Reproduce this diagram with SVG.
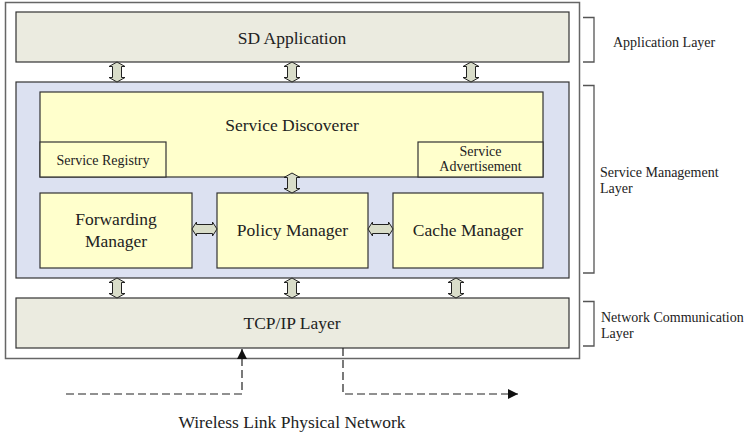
<svg xmlns="http://www.w3.org/2000/svg" width="749" height="435" viewBox="0 0 749 435">
<defs>
<style>
text{font-family:"Liberation Serif","Times New Roman",serif;fill:#222;}
.big{font-size:17.5px;text-anchor:middle;}
.sm{font-size:14px;text-anchor:middle;}
.lbl{font-size:14px;}
.layer{fill:#EBEBE0;stroke:#333;stroke-width:1.2;}
.yel{fill:#FFFFCC;stroke:#333;stroke-width:1.2;}
.dbl{fill:#D9DDC9;stroke:#222;stroke-width:1;}
.brk{fill:none;stroke:#555;stroke-width:1.3;}
.dash{fill:none;stroke:#222;stroke-width:1.2;stroke-dasharray:8,4;}
</style>
<path id="va" d="M0,0 L8,4.5 L4.5,4.5 L4.5,15.5 L8,15.5 L0,20 L-8,15.5 L-4.5,15.5 L-4.5,4.5 L-8,4.5 Z"/>
<path id="ha" d="M0,0 L4.5,-7 L4.5,-4.5 L20.5,-4.5 L20.5,-7 L25,0 L20.5,7 L20.5,4.5 L4.5,4.5 L4.5,7 Z"/>
<marker id="ah" viewBox="0 0 10 10" refX="10" refY="5" markerWidth="10" markerHeight="10" markerUnits="userSpaceOnUse" orient="auto">
<path d="M0,0 L10,5 L0,10 Z" fill="#111"/>
</marker>
</defs>
<rect width="749" height="435" fill="#fff"/>
<rect x="5.5" y="2.5" width="574" height="356" fill="#fff" stroke="#666" stroke-width="1.5"/>

<g id="sd-application">
<rect class="layer" x="16" y="12" width="553" height="50"/>
<text class="big" x="292" y="44">SD Application</text>
</g>

<g id="service-management">
<rect x="16" y="82" width="553" height="196" fill="#DCE1F1" stroke="#333" stroke-width="1.2"/>
</g>

<g id="service-discoverer">
<rect class="yel" x="40" y="92" width="503" height="85"/>
<text class="big" x="292" y="131">Service Discoverer</text>
</g>
<g id="service-registry">
<rect class="yel" x="40" y="142" width="126" height="35"/>
<text class="sm" x="103" y="165">Service Registry</text>
</g>
<g id="service-advertisement">
<rect class="yel" x="418" y="142" width="125" height="35"/>
<text class="sm" x="480.5" y="156">Service</text>
<text class="sm" x="480.5" y="171">Advertisement</text>
</g>
<g id="forwarding-manager">
<rect class="yel" x="40" y="193" width="152" height="75"/>
<text class="big" x="116" y="225">Forwarding</text>
<text class="big" x="116" y="247">Manager</text>
</g>
<g id="policy-manager">
<rect class="yel" x="217" y="193" width="151" height="75"/>
<text class="big" x="292.5" y="236">Policy Manager</text>
</g>
<g id="cache-manager">
<rect class="yel" x="393" y="193" width="150" height="75"/>
<text class="big" x="468" y="236">Cache Manager</text>
</g>

<g id="tcp-ip-layer">
<rect class="layer" x="16" y="298" width="553" height="50"/>
<text class="big" x="292" y="329">TCP/IP Layer</text>
</g>

<g id="application-layer-label">
<path class="brk" d="M583,17.5 H594 V62 H583"/>
<text class="lbl" x="613" y="47">Application Layer</text>
</g>
<g id="service-management-layer-label">
<path class="brk" d="M583,85.5 H594 V273 H583"/>
<text class="lbl" x="600" y="177">Service Management</text>
<text class="lbl" x="600" y="193">Layer</text>
</g>
<g id="network-communication-layer-label">
<path class="brk" d="M583,301.5 H594 V346 H583"/>
<text class="lbl" x="601" y="322">Network Communication</text>
<text class="lbl" x="601" y="338">Layer</text>
</g>

<g id="wireless-network">
<text class="big" x="292" y="428">Wireless Link Physical Network</text>
</g>

<g id="connectors">
<use href="#va" class="dbl" x="117" y="62"/>
<use href="#va" class="dbl" x="292" y="62"/>
<use href="#va" class="dbl" x="471" y="62"/>
<use href="#va" class="dbl" x="292" y="173" transform="translate(0,0)"/>
<use href="#ha" class="dbl" x="192" y="229"/>
<use href="#ha" class="dbl" x="368" y="229"/>
<use href="#va" class="dbl" x="117" y="278"/>
<use href="#va" class="dbl" x="292" y="278"/>
<use href="#va" class="dbl" x="456" y="278"/>
<path class="dash" d="M66,394 H242 V349" marker-end="url(#ah)"/>
<path class="dash" d="M343,348 V394 H518" marker-end="url(#ah)"/>
</g>
</svg>
